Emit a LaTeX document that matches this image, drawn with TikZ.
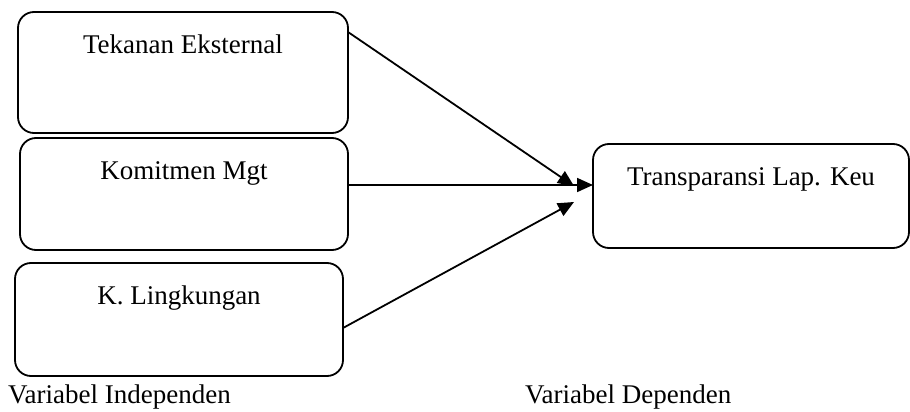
\documentclass[tikz,border=0pt]{standalone}
\usepackage{fontspec}
\setmainfont{Liberation Serif}
\usetikzlibrary{arrows.meta}
\begin{document}
\begin{tikzpicture}[x=1pt,y=-1pt,
  box/.style={draw,line width=1.8pt,rounded corners=16pt},
  lbl/.style={font=\fontsize{27}{32}\selectfont,anchor=base,inner sep=0pt},
  conn/.style={line width=1.8pt,-{Triangle[length=16pt,width=14pt]}}]
\useasboundingbox (0,0) rectangle (910,412);
\draw[box] (18,12) rectangle (348,133);
\draw[box] (20,138) rectangle (348,250);
\draw[box] (15,263) rectangle (343,376);
\draw[box] (593,144) rectangle (909,248);
\coordinate (b1) at (348,32);
\coordinate (b2) at (348,185);
\coordinate (b3) at (343,328);
\coordinate (t1) at (574,186);
\coordinate (t2) at (593,185);
\coordinate (t3) at (574,202);
\node[lbl] (n1) at (183,53) {Tekanan Eksternal};
\node[lbl] (n2) at (184,179) {Komitmen Mgt};
\node[lbl] (n3) at (179,304) {K. Lingkungan};
\node[lbl] (n4) at (751,185) {Transparansi Lap. Keu};
\node[lbl,anchor=base west] (v1) at (8,403) {Variabel Independen};
\node[lbl,anchor=base west] (v2) at (525,403) {Variabel Dependen};
\draw[conn] (b1) -- (t1);
\draw[conn] (b2) -- (t2);
\draw[conn] (b3) -- (t3);
\end{tikzpicture}
\end{document}
